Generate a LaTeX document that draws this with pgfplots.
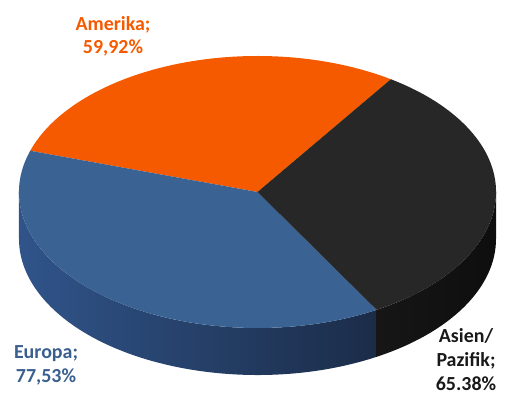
\documentclass[border=0pt]{standalone}
\usepackage{pgfplots}
\pgfplotsset{compat=1.18}
\usepackage{pgfplotstable}
\usepackage{fontspec}
\setmainfont{Carlito}
\definecolor{amerika}{HTML}{F65A00}
\definecolor{europa}{HTML}{3A6394}
\definecolor{europalab}{HTML}{3A5F8F}
\definecolor{asien}{HTML}{272727}
\definecolor{europasideL}{HTML}{30548A}
\definecolor{europasideR}{HTML}{1B2C48}
\definecolor{asiensideL}{HTML}{161616}
\definecolor{asiensideR}{HTML}{0E0E0E}
\pgfplotstableread{
region value
Amerika 59.92
Europa 77.53
Asien 65.38
}\piedata
\pgfplotstablegetelem{0}{value}\of\piedata \let\va\pgfplotsretval
\pgfplotstablegetelem{1}{value}\of\piedata \let\vb\pgfplotsretval
\pgfplotstablegetelem{2}{value}\of\piedata \let\vc\pgfplotsretval
\pgfmathsetmacro{\tot}{\va+\vb+\vc}
\pgfmathsetmacro{\aA}{56}
\pgfmathsetmacro{\aB}{\aA+360*(\va/\tot)}
\pgfmathsetmacro{\aC}{\aB+360*(\vb/\tot)}
\pgfmathsetmacro{\aD}{\aC+360*(\vc/\tot)}
\def\cx{257.5}
\def\cy{206}
\def\ra{238.5}
\def\rb{136}
\def\dep{47}
\begin{document}
\begin{tikzpicture}
\begin{axis}[width=508bp,height=398bp,scale only axis,hide axis,
  xmin=0,xmax=508,ymin=0,ymax=398,clip=false]
% sides
\shade[left color=europasideL,right color=europasideR]
  (axis cs:{\cx-\ra},\cy) arc[start angle=180,end angle=\aC,x radius=\ra bp,y radius=\rb bp]
  -- ++(0,-\dep bp) arc[start angle=\aC,end angle=180,x radius=\ra bp,y radius=\rb bp] -- cycle;
\shade[left color=asiensideL,right color=asiensideR]
  (axis cs:{\cx+\ra*cos(\aC)},{\cy+\rb*sin(\aC)}) arc[start angle=\aC,end angle=360,x radius=\ra bp,y radius=\rb bp]
  -- ++(0,-\dep bp) arc[start angle=360,end angle=\aC,x radius=\ra bp,y radius=\rb bp] -- cycle;
% tops
\fill[amerika] (axis cs:\cx,\cy) -- (axis cs:{\cx+\ra*cos(\aA)},{\cy+\rb*sin(\aA)})
  arc[start angle=\aA,end angle=\aB,x radius=\ra bp,y radius=\rb bp] -- cycle;
\fill[europa] (axis cs:\cx,\cy) -- (axis cs:{\cx+\ra*cos(\aB)},{\cy+\rb*sin(\aB)})
  arc[start angle=\aB,end angle=\aC,x radius=\ra bp,y radius=\rb bp] -- cycle;
\fill[asien] (axis cs:\cx,\cy) -- (axis cs:{\cx+\ra*cos(\aC)},{\cy+\rb*sin(\aC)})
  arc[start angle=\aC,end angle=\aD,x radius=\ra bp,y radius=\rb bp] -- cycle;
% labels
\node[align=center,text=amerika,font=\bfseries\fontsize{20}{23.5}\selectfont,inner sep=0pt]
  at (axis cs:113,361.5) {Amerika;\\59,92\%};
\node[align=center,text=europalab,font=\bfseries\fontsize{20}{24}\selectfont,inner sep=0pt]
  at (axis cs:46,33) {Europa;\\77,53\%};
\node[align=center,text=black!90,font=\bfseries\fontsize{20}{24}\selectfont,inner sep=0pt]
  at (axis cs:466,38) {Asien/\\Pazifik;\\65.38\%};
\end{axis}
\pgfresetboundingbox
\path (0,0) rectangle (508bp,398bp);
\end{tikzpicture}
\end{document}
